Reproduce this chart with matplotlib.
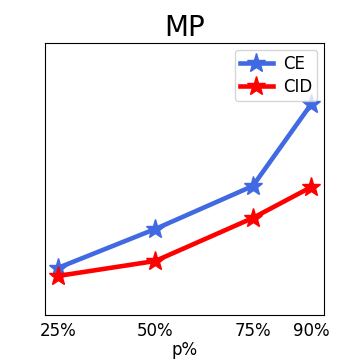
import matplotlib
matplotlib.use("Agg")
import matplotlib.pyplot as plt

x_labels = ["25%", "50%", "75%", "90%"]
x_vals = [25, 50, 75, 90]
ce = [47, 86, 129, 211]
cid = [39, 54, 97, 128]

fig = plt.figure(figsize=(3.6, 3.6), dpi=100)
ax = fig.add_axes([45/360, 1 - 315/360, (324-45)/360, (315-43)/360])
ax.plot(x_vals, ce, color="royalblue", marker="*", markersize=14, linewidth=3.3, label="CE")
ax.plot(x_vals, cid, color="red", marker="*", markersize=14, linewidth=3.3, label="CID")
ax.set_ylim(0, 272)
ax.set_xticks(x_vals)
ax.set_xticklabels(x_labels, fontsize=12)
ax.tick_params(axis="x", length=0, pad=5)
ax.set_yticks([])
ax.set_xlabel("p%", fontsize=12, labelpad=1)
ax.set_title("MP", fontsize=20, pad=5)
ax.legend(loc="upper right", fontsize=12, labelspacing=0.3, handlelength=2.0,
          handletextpad=0.6, borderpad=0.3, borderaxespad=0.4)
fig.savefig("out.png", dpi=100)
